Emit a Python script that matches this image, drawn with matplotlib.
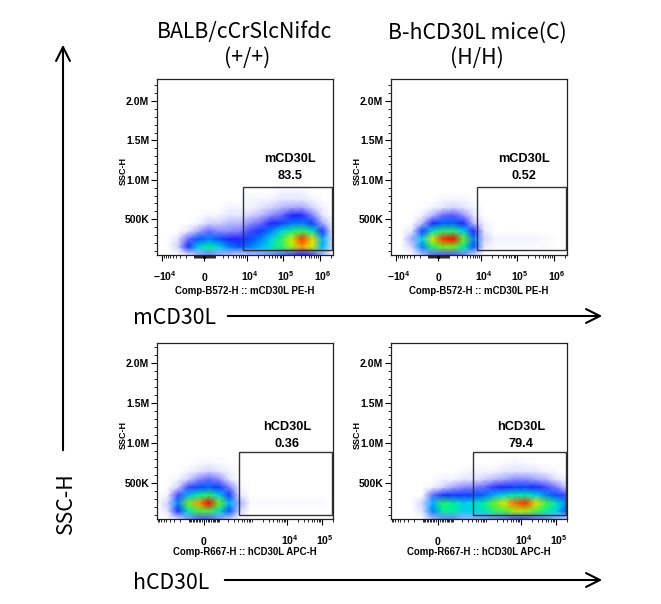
import matplotlib.pyplot as plt
import numpy as np
from matplotlib.colors import LinearSegmentedColormap
from matplotlib.patches import Rectangle, FancyArrowPatch
from matplotlib.ticker import FixedLocator
import matplotlib.transforms as mtransforms

plt.rcParams['font.family'] = ['Liberation Sans', 'DejaVu Sans']
plt.rcParams['mathtext.fontset'] = 'custom'
plt.rcParams['mathtext.rm'] = 'Liberation Sans'
plt.rcParams['mathtext.bf'] = 'Liberation Sans:bold'

W, H = 661, 604

# ---- data ----
titles = ["BALB/cCrSlcNifdc", "B-hCD30L mice(C)"]
genotypes = ["(+/+)", "(H/H)"]
markers = ["mCD30L", "hCD30L"]
x_names = ["Comp-B572-H :: mCD30L PE-H", "Comp-R667-H :: hCD30L APC-H"]
gate_pct = [["83.5", "0.52"], ["0.36", "79.4"]]

# asinh cofactor and visible range (asinh units) per row of panels
cofactor = [1380, 85]
u_range = [(-3.0, 8.13), (-3.09, 8.48)]
x_ticks = [[-1e4, 0, 1e4, 1e5, 1e6], [0, 1e4, 1e5]]
x_ticklabels = [[r'$\mathbf{-10^{4}}$', r'$\mathbf{0}$', r'$\mathbf{10^{4}}$', r'$\mathbf{10^{5}}$', r'$\mathbf{10^{6}}$'],
                [r'$\mathbf{0}$', r'$\mathbf{10^{4}}$', r'$\mathbf{10^{5}}$']]
y_lims = [(0.045e6, 2.28e6), (0.05e6, 2.25e6)]
y_ticks = [5e5, 1e6, 1.5e6, 2e6]
y_ticklabels = ["500K", "1.0M", "1.5M", "2.0M"]

# gates: (x low, x high, y low, y high)
gates = [[(8.0e3, 2.2e6, 0.11e6, 0.91e6), (8.0e3, 2.2e6, 0.11e6, 0.91e6)],
         [(420, 1.9e5, 0.10e6, 0.89e6), (420, 1.9e5, 0.10e6, 0.89e6)]]

# relative event density, rows = SSC 0.05M..0.95M (step 0.1M), 18 columns across each panel
dens_tl = [
    [0, 0, 0, 0.02, 0.05, 0.07, 0.05, 0.04, 0.03, 0.04, 0.05, 0.06, 0.08, 0.10, 0.12, 0.10, 0.04, 0],
    [0, 0, 0.03, 0.15, 0.35, 0.45, 0.35, 0.25, 0.20, 0.25, 0.30, 0.40, 0.50, 0.65, 0.85, 0.70, 0.30, 0.02],
    [0, 0, 0.02, 0.08, 0.20, 0.25, 0.20, 0.12, 0.12, 0.18, 0.25, 0.35, 0.50, 0.70, 0.95, 0.75, 0.30, 0.02],
    [0, 0, 0, 0.02, 0.05, 0.08, 0.06, 0.06, 0.07, 0.10, 0.16, 0.25, 0.36, 0.48, 0.52, 0.42, 0.15, 0],
    [0, 0, 0, 0, 0.01, 0.03, 0.03, 0.04, 0.04, 0.06, 0.08, 0.12, 0.17, 0.24, 0.25, 0.17, 0.05, 0],
    [0, 0, 0, 0, 0, 0.01, 0.01, 0.02, 0.02, 0.03, 0.04, 0.06, 0.08, 0.12, 0.12, 0.07, 0.02, 0],
    [0, 0, 0, 0, 0, 0, 0, 0.01, 0.01, 0.01, 0.02, 0.03, 0.04, 0.05, 0.05, 0.03, 0.01, 0],
    [0, 0, 0, 0, 0, 0, 0, 0, 0, 0.01, 0.01, 0.01, 0.02, 0.02, 0.02, 0.01, 0, 0],
    [0, 0, 0, 0, 0, 0, 0, 0, 0, 0, 0, 0, 0.01, 0.01, 0.01, 0, 0, 0],
    [0, 0, 0, 0, 0, 0, 0, 0, 0, 0, 0, 0, 0, 0, 0, 0, 0, 0],
]
dens_tr = [
    [0, 0, 0, 0.04, 0.08, 0.09, 0.09, 0.07, 0.03, 0, 0, 0, 0, 0, 0, 0, 0, 0],
    [0, 0, 0.03, 0.25, 0.50, 0.60, 0.60, 0.45, 0.20, 0.02, 0.005, 0.005, 0.005, 0.005, 0.005, 0.005, 0, 0],
    [0, 0, 0.05, 0.35, 0.70, 0.95, 1.00, 0.60, 0.25, 0.03, 0.01, 0.01, 0.01, 0.01, 0.01, 0.005, 0, 0],
    [0, 0, 0.02, 0.17, 0.40, 0.50, 0.50, 0.35, 0.12, 0.02, 0, 0, 0, 0, 0, 0, 0, 0],
    [0, 0, 0, 0.04, 0.14, 0.22, 0.22, 0.14, 0.04, 0.01, 0, 0, 0, 0, 0, 0, 0, 0],
    [0, 0, 0, 0.01, 0.04, 0.08, 0.09, 0.06, 0.02, 0, 0, 0, 0, 0, 0, 0, 0, 0],
    [0, 0, 0, 0, 0.01, 0.02, 0.03, 0.02, 0.01, 0, 0, 0, 0, 0, 0, 0, 0, 0],
    [0, 0, 0, 0, 0, 0.01, 0.01, 0.01, 0, 0, 0, 0, 0, 0, 0, 0, 0, 0],
    [0, 0, 0, 0, 0, 0, 0, 0, 0, 0, 0, 0, 0, 0, 0, 0, 0, 0],
    [0, 0, 0, 0, 0, 0, 0, 0, 0, 0, 0, 0, 0, 0, 0, 0, 0, 0],
]
dens_bl = [
    [0, 0, 0.02, 0.06, 0.09, 0.09, 0.06, 0.03, 0, 0, 0, 0, 0, 0, 0, 0, 0, 0],
    [0, 0.02, 0.15, 0.40, 0.55, 0.55, 0.40, 0.20, 0.03, 0, 0, 0, 0, 0, 0, 0, 0, 0],
    [0, 0.03, 0.25, 0.60, 0.85, 1.00, 0.60, 0.30, 0.05, 0.005, 0.005, 0.005, 0.005, 0.005, 0.005, 0.005, 0.005, 0],
    [0, 0.01, 0.10, 0.30, 0.45, 0.50, 0.35, 0.16, 0.02, 0, 0, 0, 0, 0, 0, 0, 0, 0],
    [0, 0, 0.03, 0.10, 0.18, 0.22, 0.16, 0.07, 0.01, 0, 0, 0, 0, 0, 0, 0, 0, 0],
    [0, 0, 0.01, 0.03, 0.06, 0.08, 0.06, 0.02, 0, 0, 0, 0, 0, 0, 0, 0, 0, 0],
    [0, 0, 0, 0.01, 0.02, 0.03, 0.02, 0.01, 0, 0, 0, 0, 0, 0, 0, 0, 0, 0],
    [0, 0, 0, 0, 0.005, 0.01, 0.005, 0, 0, 0, 0, 0, 0, 0, 0, 0, 0, 0],
    [0, 0, 0, 0, 0, 0, 0, 0, 0, 0, 0, 0, 0, 0, 0, 0, 0, 0],
    [0, 0, 0, 0, 0, 0, 0, 0, 0, 0, 0, 0, 0, 0, 0, 0, 0, 0],
]
dens_br = [
    [0, 0, 0, 0, 0.04, 0.07, 0.07, 0.05, 0.05, 0.06, 0.07, 0.08, 0.10, 0.10, 0.08, 0.07, 0.05, 0.03],
    [0, 0, 0, 0.02, 0.25, 0.45, 0.45, 0.35, 0.35, 0.40, 0.50, 0.55, 0.65, 0.65, 0.55, 0.45, 0.35, 0.20],
    [0, 0, 0, 0.03, 0.30, 0.50, 0.45, 0.35, 0.38, 0.45, 0.60, 0.75, 0.90, 0.95, 0.75, 0.55, 0.40, 0.25],
    [0, 0, 0, 0, 0.08, 0.16, 0.16, 0.16, 0.18, 0.23, 0.30, 0.38, 0.43, 0.43, 0.36, 0.25, 0.18, 0.10],
    [0, 0, 0, 0, 0.01, 0.03, 0.05, 0.06, 0.07, 0.08, 0.11, 0.14, 0.17, 0.17, 0.14, 0.10, 0.07, 0.03],
    [0, 0, 0, 0, 0, 0.01, 0.01, 0.02, 0.02, 0.03, 0.04, 0.05, 0.06, 0.06, 0.05, 0.04, 0.02, 0.01],
    [0, 0, 0, 0, 0, 0, 0, 0.005, 0.01, 0.01, 0.01, 0.02, 0.02, 0.02, 0.02, 0.01, 0.005, 0],
    [0, 0, 0, 0, 0, 0, 0, 0, 0, 0, 0, 0.005, 0.01, 0.005, 0, 0, 0, 0],
    [0, 0, 0, 0, 0, 0, 0, 0, 0, 0, 0, 0, 0, 0, 0, 0, 0, 0],
    [0, 0, 0, 0, 0, 0, 0, 0, 0, 0, 0, 0, 0, 0, 0, 0, 0, 0],
]
densities = [[dens_tl, dens_tr], [dens_bl, dens_br]]

# pseudocolor like the cytometry software (sparse events fade to light blue)
flow_cmap = LinearSegmentedColormap.from_list("flow", [
    (0.0, "#ffffff"), (0.02, "#e4e4ff"), (0.06, "#8a8aff"), (0.12, "#2020ff"),
    (0.22, "#0060ff"), (0.32, "#00c8ff"), (0.45, "#00f0a0"), (0.58, "#60f020"),
    (0.72, "#e0f000"), (0.82, "#ffc000"), (0.92, "#ff5000"), (1.0, "#ff0000")])

fig = plt.figure(figsize=(W / 100, H / 100), dpi=100)


def fig_xy(px, py):
    return px / W, 1 - py / H


panel_left = [157, 391]
panel_top = [79, 343]
panel_size = 176

for r in range(2):
    c_f = cofactor[r]
    fwd = lambda x, c_f=c_f: np.arcsinh(np.asarray(x) / c_f)
    inv = lambda u, c_f=c_f: c_f * np.sinh(np.asarray(u))
    for c in range(2):
        x0, y1 = fig_xy(panel_left[c], panel_top[r] + panel_size)
        ax = fig.add_axes([x0, y1, panel_size / W, panel_size / H])
        ax.set_xscale('function', functions=(fwd, inv))
        xlim = (inv(u_range[r][0]), inv(u_range[r][1]))
        ax.set_xlim(*xlim)
        ax.set_ylim(*y_lims[r])

        # density cloud
        dens = np.array(densities[r][c])
        xs = inv(np.linspace(u_range[r][0], u_range[r][1], dens.shape[1]))
        ys = np.arange(dens.shape[0]) * 1e5 + 0.05e6
        X, Y = np.meshgrid(xs, ys)
        ax.pcolormesh(X, Y, dens, shading='gouraud', cmap=flow_cmap, vmin=0, vmax=1, zorder=1)

        # gate
        gx0, gx1, gy0, gy1 = gates[r][c]
        ax.add_patch(Rectangle((gx0, gy0), gx1 - gx0, gy1 - gy0, fill=False,
                               edgecolor='#333333', lw=1.0, zorder=3))
        ax.text(0.755 if r == 0 else 0.737, 0.545 if r == 0 else 0.523, markers[r],
                transform=ax.transAxes, ha='center', va='center', fontsize=9.2, fontweight='bold')
        ax.text(0.755 if r == 0 else 0.737, 0.449 if r == 0 else 0.426, gate_pct[r][c],
                transform=ax.transAxes, ha='center', va='center', fontsize=9.2, fontweight='bold')

        # ticks
        ax.set_yticks(y_ticks, y_ticklabels, fontsize=7.5, fontweight='bold')
        ax.yaxis.set_minor_locator(FixedLocator(np.arange(1e5, y_lims[r][1], 1e5)))
        ax.xaxis.set_major_locator(FixedLocator(x_ticks[r]))
        minors = []
        for n in range(1, 7):
            for k in range(1, 10):
                for s in (-1, 1):
                    v = s * k * 10 ** n
                    if xlim[0] < v < xlim[1] and v not in x_ticks[r]:
                        minors.append(v)
        ax.xaxis.set_minor_locator(FixedLocator(minors))
        ax.set_xticklabels([])
        ax.tick_params(which='major', direction='out', length=4, width=0.8, pad=1.5)
        ax.tick_params(which='minor', direction='out', length=2, width=0.6)
        trans = mtransforms.offset_copy(ax.get_xaxis_transform(), fig=fig, x=2.2, units='points')
        for v, lab in zip(x_ticks[r], x_ticklabels[r]):
            ax.text(v, -0.145, lab, transform=ax.get_xaxis_transform() if v == 0 else trans,
                    ha='center', va='baseline', fontsize=7.5)
        ax.text(0.5, -0.205 if r == 0 else -0.19, x_names[r], transform=ax.transAxes,
                ha='center', va='center', fontsize=6.9, fontweight='bold')
        ax.text(-0.193, 0.48, "SSC-H", transform=ax.transAxes, rotation=90,
                ha='center', va='center', fontsize=6.5, fontweight='bold')
        for sp in ax.spines.values():
            sp.set_linewidth(0.9)
            sp.set_color('#222222')

# column titles
big = dict(family=['Noto Sans CJK SC', 'DejaVu Sans'], fontsize=15.3)
fig.text(*fig_xy(245, 38.5), titles[0], ha='center', va='baseline', **big)
fig.text(*fig_xy(247, 64), genotypes[0], ha='center', va='baseline', **big)
fig.text(*fig_xy(477, 38.5), titles[1], ha='center', va='baseline', **big)
fig.text(*fig_xy(477, 64), genotypes[1], ha='center', va='baseline', **big)

# axis arrows
arrow_kw = dict(arrowstyle='->,head_length=10,head_width=5', lw=1.5, color='black',
                transform=fig.transFigure, mutation_scale=1)
fig.add_artist(FancyArrowPatch(fig_xy(63, 453), fig_xy(63, 42), **arrow_kw))
fig.add_artist(FancyArrowPatch(fig_xy(225, 316), fig_xy(605, 316), **arrow_kw))
fig.add_artist(FancyArrowPatch(fig_xy(222, 580), fig_xy(605, 580), **arrow_kw))
fig.text(*fig_xy(133, 324), markers[0], ha='left', va='baseline', **big)
fig.text(*fig_xy(133, 589), markers[1], ha='left', va='baseline', **big)
fig.text(*fig_xy(66, 503), "SSC-H", rotation=90, ha='center', va='center', **big)

fig.savefig("out.png", dpi=100)
